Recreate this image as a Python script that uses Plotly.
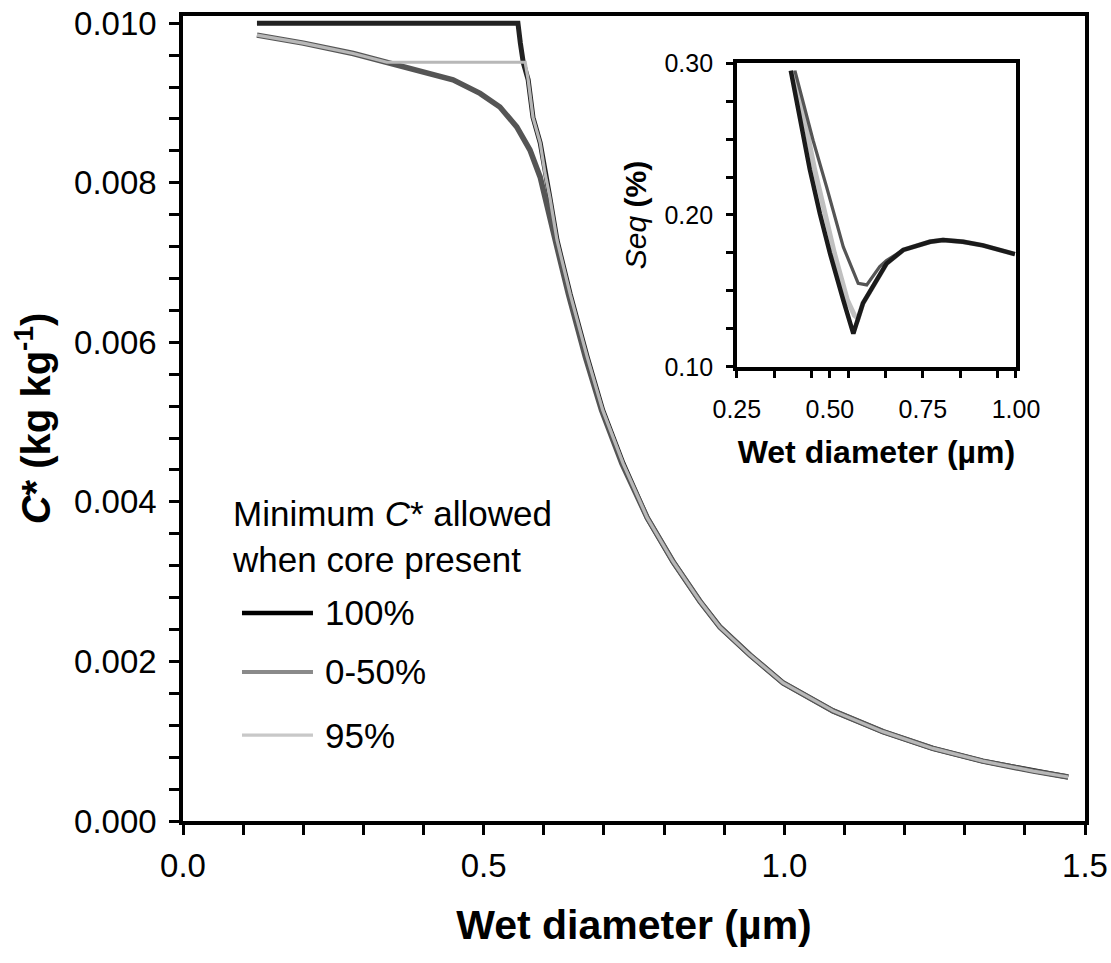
import plotly.graph_objects as go

# ---------------- main panel data (C* vs wet diameter) ----------------
d_100 = [0.123, 0.557, 0.561, 0.566, 0.574, 0.582, 0.594, 0.602, 0.610, 0.622, 0.644, 0.672, 0.698,
         0.732, 0.772, 0.815, 0.860, 0.893, 0.943, 0.998, 1.081, 1.164, 1.247, 1.330, 1.414, 1.472]
c_100 = [0.0100, 0.0100, 0.00975, 0.00950, 0.00929, 0.00882, 0.00850, 0.00812, 0.00782, 0.00728,
         0.00660, 0.00582, 0.00515, 0.00448, 0.00380, 0.00325, 0.00275, 0.00243, 0.00208, 0.00173,
         0.00138, 0.00112, 0.000910, 0.000750, 0.000625, 0.000551]

d_050 = [0.123, 0.200, 0.283, 0.339, 0.394, 0.449, 0.494, 0.527, 0.555, 0.577, 0.594, 0.606, 0.619,
         0.641, 0.669, 0.696, 0.730, 0.772, 0.815, 0.860, 0.893, 0.943, 0.998, 1.081, 1.164, 1.247,
         1.330, 1.414, 1.472]
c_050 = [0.00985, 0.00975, 0.00962, 0.00951, 0.00941, 0.00929, 0.00912, 0.00895, 0.00870, 0.00841,
         0.00807, 0.00772, 0.00728, 0.00660, 0.00582, 0.00515, 0.00448, 0.00380, 0.00325, 0.00275,
         0.00243, 0.00208, 0.00173, 0.00138, 0.00112, 0.000910, 0.000750, 0.000625, 0.000551]

d_95 = [0.123, 0.200, 0.283, 0.339, 0.569, 0.574, 0.582, 0.594, 0.602, 0.610, 0.622, 0.644, 0.672,
        0.698, 0.732, 0.772, 0.815, 0.860, 0.893, 0.943, 0.998, 1.081, 1.164, 1.247, 1.330, 1.414, 1.472]
c_95 = [0.00985, 0.00975, 0.00962, 0.00951, 0.00951, 0.00929, 0.00882, 0.00850, 0.00812, 0.00782,
        0.00728, 0.00660, 0.00582, 0.00515, 0.00448, 0.00380, 0.00325, 0.00275, 0.00243, 0.00208,
        0.00173, 0.00138, 0.00112, 0.000910, 0.000750, 0.000625, 0.000551]

# ---------------- inset data (Seq vs wet diameter) ----------------
s_d_100 = [0.395, 0.424, 0.446, 0.473, 0.500, 0.536, 0.563, 0.589, 0.616, 0.652, 0.697, 0.769,
           0.804, 0.858, 0.911, 0.997]
seq_100 = [0.295, 0.258, 0.230, 0.201, 0.175, 0.144, 0.122, 0.142, 0.153, 0.168, 0.177, 0.1824,
           0.1836, 0.1824, 0.180, 0.1743]

s_d_050 = [0.406, 0.455, 0.491, 0.536, 0.576, 0.599, 0.634, 0.652, 0.697, 0.769, 0.804, 0.858,
           0.911, 0.997]
seq_050 = [0.295, 0.249, 0.2186, 0.179, 0.155, 0.154, 0.166, 0.170, 0.177, 0.1824, 0.1836, 0.1824,
           0.180, 0.1743]

s_d_95 = [0.400, 0.436, 0.459, 0.486, 0.512, 0.547, 0.566, 0.576, 0.589, 0.616, 0.652, 0.697,
          0.769, 0.804, 0.858, 0.911, 0.997]
seq_95 = [0.295, 0.258, 0.230, 0.201, 0.175, 0.144, 0.134, 0.132, 0.142, 0.153, 0.168, 0.177,
          0.1824, 0.1836, 0.1824, 0.180, 0.1743]

# ---------------- ticks / labels ----------------
x_ticks = [0.0, 0.5, 1.0, 1.5]
x_ticktext = ["0.0", "0.5", "1.0", "1.5"]
y_ticks = [0.000, 0.002, 0.004, 0.006, 0.008, 0.010]
y_ticktext = ["0.000", "0.002", "0.004", "0.006", "0.008", "0.010"]

inset_x_ticks = [0.25, 0.50, 0.75, 1.00]
inset_x_ticktext = ["0.25", "0.50", "0.75", "1.00"]
inset_x_minor = [0.35, 0.45, 0.55, 0.65, 0.85, 0.95]
inset_y_ticks = [0.10, 0.20, 0.30]
inset_y_ticktext = ["0.10", "0.20", "0.30"]

legend_labels = ["100%", "0-50%", "95%"]
legend_colors = ["#000000", "#8a8a8a", "#c8c8c8"]
legend_widths = [4.5, 4.2, 3.2]

FONT = "Liberation Sans, Arial, sans-serif"

fig = go.Figure()

# main panel (drawing order: 100% under, 0-50% middle, 95% on top)
fig.add_trace(go.Scatter(x=d_100, y=c_100, mode="lines", name="100%",
                         line=dict(color="#222222", width=5), showlegend=False))
fig.add_trace(go.Scatter(x=d_050, y=c_050, mode="lines", name="0-50%",
                         line=dict(color="#555555", width=5.5), showlegend=False))
fig.add_trace(go.Scatter(x=d_95, y=c_95, mode="lines", name="95%",
                         line=dict(color="#b8b8b8", width=3.2), showlegend=False))

# inset
fig.add_trace(go.Scatter(x=s_d_95, y=seq_95, mode="lines", xaxis="x2", yaxis="y2",
                         line=dict(color="#c0c0c0", width=5), showlegend=False))
fig.add_trace(go.Scatter(x=s_d_050, y=seq_050, mode="lines", xaxis="x2", yaxis="y2",
                         line=dict(color="#555555", width=3.2), showlegend=False))
fig.add_trace(go.Scatter(x=s_d_100, y=seq_100, mode="lines", xaxis="x2", yaxis="y2",
                         line=dict(color="#1a1a1a", width=4.5), showlegend=False))

axis_common = dict(showline=True, linecolor="black", mirror=True, showgrid=False,
                   zeroline=False, ticks="outside", tickcolor="black", automargin=False)

fig.update_layout(
    width=1111, height=963,
    margin=dict(l=183, r=26, t=16, b=142, pad=0, autoexpand=False),
    paper_bgcolor="white", plot_bgcolor="white",
    font=dict(family=FONT, color="black"),
    xaxis=dict(**axis_common, range=[0, 1.5], linewidth=3.5, ticklen=10, tickwidth=3,
               tickvals=x_ticks, ticktext=x_ticktext, tickfont=dict(size=33),
               ticklabelstandoff=3,
               minor=dict(tick0=0, dtick=0.1, ticks="outside", ticklen=10, tickwidth=3,
                          tickcolor="black"),
               title=dict(text="<b>Wet diameter (µm)</b>", font=dict(size=41), standoff=28)),
    yaxis=dict(**axis_common, range=[0, 0.01009], linewidth=3.5, ticklen=10, tickwidth=3,
               tickvals=y_ticks, ticktext=y_ticktext, tickfont=dict(size=33),
               ticklabelstandoff=6,
               minor=dict(tick0=0, dtick=0.0004, ticks="outside", ticklen=10, tickwidth=3,
                          tickcolor="black"),
               title=dict(text="<b><i>C</i>* (kg kg<sup>-1</sup>)</b>", font=dict(size=40),
                          standoff=12)),
    xaxis2=dict(**axis_common, domain=[0.614, 0.9235], anchor="y2", range=[0.25, 1.0],
                linewidth=3.5, ticklen=7, tickwidth=3,
                tickvals=inset_x_ticks, ticktext=inset_x_ticktext, tickfont=dict(size=25),
                ticklabelstandoff=10,
                minor=dict(tickmode="array", tickvals=inset_x_minor, ticks="outside", ticklen=7,
                           tickwidth=3, tickcolor="black"),
                title=dict(text="<b>Wet diameter (µm)</b>", font=dict(size=32), standoff=20)),
    yaxis2=dict(**axis_common, domain=[0.564, 0.9416], anchor="x2", range=[0.10, 0.30],
                linewidth=3.5, ticklen=7, tickwidth=3,
                tickvals=inset_y_ticks, ticktext=inset_y_ticktext, tickfont=dict(size=25),
                ticklabelstandoff=8,
                minor=dict(tick0=0.10, dtick=0.025, ticks="outside", ticklen=7, tickwidth=3,
                           tickcolor="black"),
                title=dict(text="<i>Seq</i> <b>(%)</b>", font=dict(size=30), standoff=10)),
)

# legend key inside the main panel (paper coordinates)
legend_y = [0.2584, 0.1851, 0.1068]
for lab, col, w, yy in zip(legend_labels, legend_colors, legend_widths, legend_y):
    fig.add_shape(type="line", xref="paper", yref="paper", x0=0.0654, x1=0.1441, y0=yy, y1=yy,
                  line=dict(color=col, width=w))
    fig.add_annotation(text=lab, xref="paper", yref="paper", x=0.1552, y=yy, xanchor="left",
                       yanchor="middle", showarrow=False, font=dict(size=35, family=FONT))

fig.add_annotation(text="Minimum <i>C</i>* allowed<br>when core present", xref="paper", yref="paper",
                   x=0.0521, y=0.3534, xanchor="left", yanchor="middle", align="left",
                   showarrow=False, font=dict(size=35, family=FONT))

fig.write_html("out.html")
